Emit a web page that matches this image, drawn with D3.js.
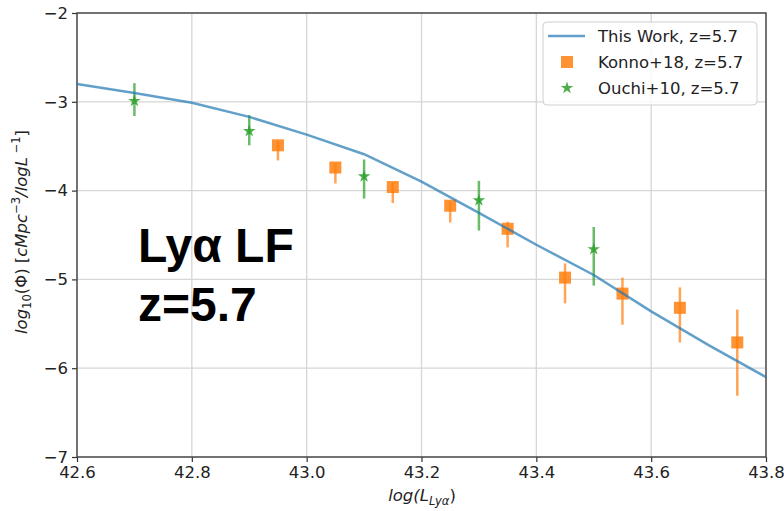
<!DOCTYPE html>
<html>
<head>
<meta charset="utf-8">
<script src="https://cdn.jsdelivr.net/npm/d3@7"></script>
<style>
  html, body { margin: 0; padding: 0; background: #fff; }
  svg { display: block; }
  text { font-family: "DejaVu Sans", sans-serif; }
  text.big { font-family: "Liberation Sans", Arial, sans-serif; font-weight: bold; font-size: 48px; }
</style>
</head>
<body>
<svg id="chart" width="784" height="511"></svg>
<script>
// Model luminosity function ("This Work")
const modelLogL = [42.6, 42.7, 42.8, 42.9, 43.0, 43.1, 43.2, 43.3, 43.4, 43.5, 43.6, 43.7, 43.8];
const modelPhi  = [-2.80, -2.90, -3.01, -3.17, -3.37, -3.59, -3.90, -4.25, -4.61, -4.95, -5.36, -5.74, -6.10];

// Konno+18 measurements with asymmetric errors
const konnoLogL = [42.95, 43.05, 43.15, 43.25, 43.35, 43.45, 43.55, 43.65, 43.75];
const konnoPhi  = [-3.49, -3.74, -3.96, -4.17, -4.43, -4.98, -5.16, -5.32, -5.71];
const konnoHi   = [-3.44, -3.69, -3.91, -4.12, -4.35, -4.82, -4.98, -5.09, -5.34];
const konnoLo   = [-3.66, -3.92, -4.14, -4.36, -4.64, -5.27, -5.51, -5.71, -6.31];

// Ouchi+10 measurements
const ouchiLogL = [42.7, 42.9, 43.1, 43.3, 43.5];
const ouchiPhi  = [-2.99, -3.33, -3.84, -4.11, -4.66];
const ouchiHi   = [-2.79, -3.15, -3.65, -3.89, -4.41];
const ouchiLo   = [-3.16, -3.49, -4.09, -4.45, -5.07];

const xTicks = [42.6, 42.8, 43.0, 43.2, 43.4, 43.6, 43.8];
const yTicks = [-7, -6, -5, -4, -3, -2];

const C_LINE = "#1f77b4", C_KONNO = "#ff7f0e", C_OUCHI = "#2ca02c";

const svg = d3.select("#chart");
const L = 77, R = 766, T = 13, B = 457;
const x = d3.scaleLinear().domain([42.6, 43.8]).range([L, R]);
const y = d3.scaleLinear().domain([-7, -2]).range([B, T]);

// grid
const grid = svg.append("g").attr("stroke", "#d6d6d6").attr("stroke-width", 1.3);
grid.selectAll("line.gx").data(xTicks).join("line")
  .attr("x1", d => x(d)).attr("x2", d => x(d)).attr("y1", T).attr("y2", B);
grid.selectAll("line.gy").data(yTicks).join("line")
  .attr("y1", d => y(d)).attr("y2", d => y(d)).attr("x1", L).attr("x2", R);

// axes
const fs = 16.5;
const xAxis = svg.append("g").attr("transform", `translate(0,${B})`)
  .call(d3.axisBottom(x).tickValues(xTicks).tickFormat(d3.format(".1f")).tickSize(5).tickPadding(4));
const yAxis = svg.append("g").attr("transform", `translate(${L},0)`)
  .call(d3.axisLeft(y).tickValues(yTicks).tickFormat(d3.format("d")).tickSize(5).tickPadding(4));
[xAxis, yAxis].forEach(a => {
  a.select(".domain").remove();
  a.selectAll(".tick line").attr("stroke", "#333").attr("stroke-width", 1.2);
  a.selectAll(".tick text").attr("fill", "#222").style("font-size", fs + "px")
    .style("font-family", "DejaVu Sans, sans-serif");
});

// plot frame
svg.append("rect").attr("x", L).attr("y", T).attr("width", R - L).attr("height", B - T)
  .attr("fill", "none").attr("stroke", "#444").attr("stroke-width", 1.4);

// error bars + markers
function drawSeries(xs, ys, hi, lo, color, symbol, size) {
  const g = svg.append("g");
  g.selectAll("line").data(xs).join("line")
    .attr("x1", d => x(d)).attr("x2", d => x(d))
    .attr("y1", (d, i) => y(hi[i])).attr("y2", (d, i) => y(lo[i]))
    .attr("stroke", color).attr("stroke-width", 2.5).attr("opacity", 0.7);
  g.selectAll("path").data(xs).join("path")
    .attr("transform", (d, i) => `translate(${x(d)},${y(ys[i])})`)
    .attr("d", d3.symbol().type(symbol).size(size))
    .attr("fill", color).attr("opacity", 0.85);
}
drawSeries(konnoLogL, konnoPhi, konnoHi, konnoLo, C_KONNO, d3.symbolSquare, 144);
drawSeries(ouchiLogL, ouchiPhi, ouchiHi, ouchiLo, C_OUCHI, d3.symbolStar, 48);

// model curve
svg.append("path")
  .datum(modelLogL.map((d, i) => [d, modelPhi[i]]))
  .attr("d", d3.line().x(d => x(d[0])).y(d => y(d[1])))
  .attr("fill", "none").attr("stroke", C_LINE).attr("stroke-width", 2.5).attr("opacity", 0.7);

// annotation
svg.append("text").attr("class", "big").attr("x", 138).attr("y", 262).attr("fill", "#000").text("Lyα LF");
svg.append("text").attr("class", "big").attr("x", 138).attr("y", 321).attr("fill", "#000").text("z=5.7");

// axis labels
const xl = svg.append("text").attr("x", 422).attr("y", 501).attr("text-anchor", "middle")
  .attr("fill", "#222").style("font-size", fs + "px");
xl.append("tspan").style("font-style", "italic").text("log(L");
xl.append("tspan").style("font-style", "italic").style("font-size", "11.5px").attr("dy", 4).text("Lyα");
xl.append("tspan").attr("dy", -4).text(")");

const yl = svg.append("text").attr("transform", "translate(27,232) rotate(-90)")
  .attr("text-anchor", "middle").attr("fill", "#222").style("font-size", fs + "px");
yl.append("tspan").style("font-style", "italic").text("log");
yl.append("tspan").style("font-size", "11.5px").attr("dy", 4).text("10");
yl.append("tspan").attr("dy", -4).text("(Φ) [");
yl.append("tspan").style("font-style", "italic").text("cMpc");
yl.append("tspan").style("font-size", "11.5px").attr("dy", -7).text("−3");
yl.append("tspan").style("font-style", "italic").attr("dy", 7).text("/logL");
yl.append("tspan").style("font-size", "11.5px").attr("dy", -7).text(" −1");
yl.append("tspan").attr("dy", 7).text("]");

// legend
const lg = svg.append("g");
lg.append("rect").attr("x", 543).attr("y", 22).attr("width", 214).attr("height", 83).attr("rx", 4)
  .attr("fill", "#fff").attr("fill-opacity", 0.85).attr("stroke", "#d0d0d0").attr("stroke-width", 1);
const rows = [
  { label: "This Work, z=5.7", kind: "line", color: C_LINE },
  { label: "Konno+18, z=5.7", kind: d3.symbolSquare, size: 144, color: C_KONNO },
  { label: "Ouchi+10, z=5.7", kind: d3.symbolStar, size: 48, color: C_OUCHI }
];
rows.forEach((r, i) => {
  const cy = 36 + i * 26;
  if (r.kind === "line") {
    lg.append("line").attr("x1", 548).attr("x2", 585).attr("y1", cy).attr("y2", cy)
      .attr("stroke", r.color).attr("stroke-width", 2.5).attr("opacity", 0.7);
  } else {
    lg.append("path").attr("transform", `translate(567,${cy})`)
      .attr("d", d3.symbol().type(r.kind).size(r.size)).attr("fill", r.color).attr("opacity", 0.85);
  }
  lg.append("text").attr("x", 598).attr("y", cy + 6).attr("fill", "#222")
    .style("font-size", fs + "px").text(r.label);
});
</script>
</body>
</html>
